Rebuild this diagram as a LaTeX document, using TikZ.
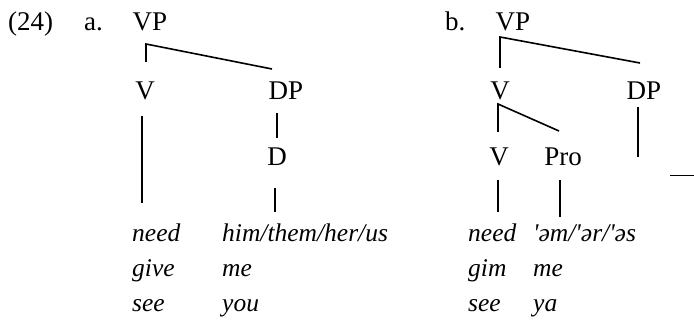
\documentclass[tikz,border=0pt]{standalone}
\usepackage{fontspec}
\setmainfont{Liberation Serif}[ItalicFont={Liberation Serif Italic}]
\begin{document}
\begin{tikzpicture}[x=1pt,y=-1pt,
  lab/.style={inner sep=0pt,anchor=base west,font=\fontsize{27}{27}\selectfont},
  cat/.style={inner sep=0pt,anchor=base,font=\fontsize{27}{27}\selectfont},
  wd/.style={inner sep=0pt,anchor=base west,font=\fontsize{25.5}{25.5}\selectfont\itshape},
  br/.style={line width=1.6pt}]
\useasboundingbox (0,0) rectangle (694,320);
% labels
\node[lab] (num) at (8,31) {(24)};
\node[lab] (la) at (84,31) {a.};
\node[lab] (lb) at (445,31) {b.};
% tree a
\node[cat] (VPa) at (150,31) {VP};
\node[cat] (Va) at (145,100) {V};
\node[cat] (DPa) at (286,100) {DP};
\node[cat] (Da) at (277,166) {D};
\coordinate (ca) at (146,44);
\coordinate (ca1) at (146,62);
\coordinate (ca2) at (272,69);
\draw[br] (ca1) -- (ca) -- (ca2);
\coordinate (va1) at (142,116);
\coordinate (va2) at (142,203);
\draw[br] (va1) -- (va2);
\coordinate (dpa1) at (277,113);
\coordinate (dpa2) at (277,138);
\draw[br] (dpa1) -- (dpa2);
\coordinate (da1) at (275,188);
\coordinate (da2) at (275,212);
\draw[br] (da1) -- (da2);
\node[wd] (w1) at (132,242) {need};
\node[wd] (w2) at (132,277) {give};
\node[wd] (w3) at (132,312) {see};
\node[wd] (w4) at (222,242) {him/them/her/us};
\node[wd] (w5) at (222,277) {me};
\node[wd] (w6) at (222,312) {you};
% tree b
\node[cat] (VPb) at (513,31) {VP};
\node[cat] (Vb) at (500,100) {V};
\node[cat] (DPb) at (644,100) {DP};
\node[cat] (Vb2) at (499,166) {V};
\node[cat] (Prob) at (563,166) {Pro};
\coordinate (cb) at (500,37);
\coordinate (cb1) at (500,68);
\coordinate (cb2) at (640,63);
\draw[br] (cb1) -- (cb) -- (cb2);
\coordinate (cv) at (498,104);
\coordinate (cv1) at (498,132);
\coordinate (cv2) at (559,131);
\draw[br] (cv1) -- (cv) -- (cv2);
\coordinate (dpb1) at (638,107);
\coordinate (dpb2) at (638,157);
\draw[br] (dpb1) -- (dpb2);
\coordinate (vb1) at (498,180);
\coordinate (vb2) at (498,212);
\draw[br] (vb1) -- (vb2);
\coordinate (pb1) at (560,180);
\coordinate (pb2) at (560,217);
\draw[br] (pb1) -- (pb2);
\coordinate (t1) at (670,176);
\coordinate (t2) at (694,176);
\draw[line width=1pt] (t1) -- (t2);
\node[wd] (u1) at (468,242) {need};
\node[wd] (u2) at (468,277) {gim};
\node[wd] (u3) at (468,312) {see};
\node[wd] (u4) at (533,242) {\textquotesingle əm/\textquotesingle ər/\textquotesingle əs};
\node[wd] (u5) at (533,277) {me};
\node[wd] (u6) at (533,312) {ya};
\end{tikzpicture}
\end{document}
